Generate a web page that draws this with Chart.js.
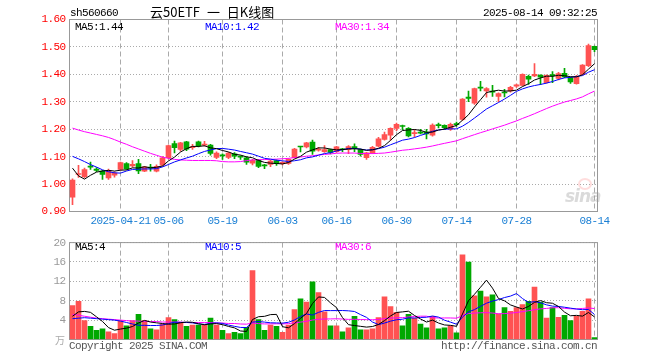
<!DOCTYPE html>
<html>
<head>
<meta charset="utf-8">
<script src="https://cdn.jsdelivr.net/npm/chart.js@4.4.1/dist/chart.umd.min.js"></script>
<style>
  html, body { margin: 0; padding: 0; background: #fff; }
  #wrap { position: relative; width: 660px; height: 360px; overflow: hidden; font-family: "Liberation Mono", monospace; }
  #wrap canvas { position: absolute; left: 0; }
  .txt { position: absolute; font-size: 11px; line-height: 12px; letter-spacing: -0.6px; white-space: nowrap; color: #000; }
</style>
</head>
<body>
<div id="wrap">
  <canvas id="kChart" width="660" height="232" style="top:0"></canvas>
  <canvas id="volChart" width="660" height="128" style="top:232px"></canvas>

  <div class="txt" style="left:70px;top:7px">sh560660</div>
  <div class="txt" style="left:150px;top:4px;font-family:'Noto Sans CJK SC';font-size:13px;line-height:16px;letter-spacing:0;word-spacing:4px">云50ETF 一 日K线图</div>
  <div class="txt" style="right:63px;top:7px">2025-08-14 09:32:25</div>

  <div class="txt" style="left:75px;top:21px">MA5:1.44</div>
  <div class="txt" style="left:205px;top:21px;color:#0000ff">MA10:1.42</div>
  <div class="txt" style="left:335px;top:21px;color:#ff00ff">MA30:1.34</div>

  <div class="txt" style="left:75px;top:241px">MA5:4</div>
  <div class="txt" style="left:205px;top:241px;color:#0000ff">MA10:5</div>
  <div class="txt" style="left:335px;top:241px;color:#ff00ff">MA30:6</div>

  <div class="txt" style="left:55px;top:334px;color:#aaa;font-family:'Noto Sans CJK SC';font-size:10px;letter-spacing:0">万</div>
  <div class="txt" style="left:69px;top:340px;color:#555">Copyright 2025 SINA.COM</div>
  <div class="txt" style="right:63px;top:340px;color:#555">http://finance.sina.com.cn</div>

  <!-- sina watermark -->
  <div style="position:absolute;left:578px;top:178px;width:10px;height:8px;border:2px solid rgba(255,120,120,0.25);border-radius:50%"></div>
  <div style="position:absolute;left:565px;top:186px;font:italic bold 17px 'DejaVu Sans';color:rgba(150,150,150,0.35);letter-spacing:-1px">sina</div>
</div>

<script>
// ── Data ──
const dates = [
  '2025-04-09','2025-04-10','2025-04-11','2025-04-14','2025-04-15','2025-04-16','2025-04-17','2025-04-18',
  '2025-04-21','2025-04-22','2025-04-23','2025-04-24','2025-04-25','2025-04-28','2025-04-29','2025-04-30',
  '2025-05-06','2025-05-07','2025-05-08','2025-05-09','2025-05-12','2025-05-13','2025-05-14','2025-05-15',
  '2025-05-16','2025-05-19','2025-05-20','2025-05-21','2025-05-22','2025-05-23','2025-05-26','2025-05-27',
  '2025-05-28','2025-05-29','2025-05-30','2025-06-03','2025-06-04','2025-06-05','2025-06-06','2025-06-09',
  '2025-06-10','2025-06-11','2025-06-12','2025-06-13','2025-06-16','2025-06-17','2025-06-18','2025-06-19',
  '2025-06-20','2025-06-23','2025-06-24','2025-06-25','2025-06-26','2025-06-27','2025-06-30','2025-07-01',
  '2025-07-02','2025-07-03','2025-07-04','2025-07-07','2025-07-08','2025-07-09','2025-07-10','2025-07-11',
  '2025-07-14','2025-07-15','2025-07-16','2025-07-17','2025-07-18','2025-07-21','2025-07-22','2025-07-23',
  '2025-07-24','2025-07-25','2025-07-28','2025-07-29','2025-07-30','2025-07-31','2025-08-01','2025-08-04',
  '2025-08-05','2025-08-06','2025-08-07','2025-08-08','2025-08-11','2025-08-12','2025-08-13','2025-08-14'
];

const tickDates = ['2025-04-21','2025-05-06','2025-05-19','2025-06-03','2025-06-16','2025-06-30','2025-07-14','2025-07-28','2025-08-14'];
const priceTicks = [0.90, 1.00, 1.10, 1.20, 1.30, 1.40, 1.50, 1.60];
const volTicks   = [0, 4, 8, 12, 16, 20];

const opens = [
  0.952,1.035,1.027,1.066,1.055,1.047,1.022,1.032,1.053,1.075,1.066,1.075,1.047,1.062,1.047,1.069,
  1.096,1.148,1.126,1.154,1.133,1.154,1.142,1.142,1.097,1.106,1.097,1.110,1.100,1.096,1.076,1.087,
  1.070,1.072,1.086,1.074,1.075,1.096,1.137,1.135,1.153,1.124,1.118,1.126,1.118,1.128,1.126,1.137,
  1.126,1.096,1.114,1.138,1.163,1.178,1.203,1.213,1.203,1.184,1.190,1.190,1.178,1.216,1.214,1.200,
  1.220,1.236,1.317,1.295,1.352,1.340,1.338,1.320,1.334,1.340,1.357,1.360,1.393,1.394,1.397,1.370,
  1.399,1.385,1.404,1.388,1.366,1.400,1.432,1.502
];
const highs = [
  1.019,1.068,1.058,1.080,1.060,1.050,1.055,1.045,1.080,1.078,1.086,1.090,1.065,1.072,1.070,1.100,
  1.142,1.157,1.152,1.156,1.145,1.157,1.156,1.145,1.118,1.110,1.116,1.115,1.103,1.100,1.090,1.090,
  1.072,1.087,1.088,1.082,1.093,1.130,1.138,1.152,1.160,1.134,1.140,1.128,1.138,1.130,1.140,1.147,
  1.128,1.116,1.138,1.170,1.190,1.205,1.222,1.215,1.206,1.200,1.200,1.200,1.220,1.222,1.216,1.222,
  1.226,1.312,1.339,1.350,1.375,1.352,1.360,1.333,1.345,1.356,1.365,1.402,1.397,1.439,1.398,1.398,
  1.410,1.407,1.422,1.390,1.396,1.436,1.510,1.503
];
const lows = [
  0.925,1.024,1.022,1.053,1.045,1.017,1.017,1.025,1.050,1.053,1.062,1.038,1.045,1.047,1.044,1.065,
  1.092,1.114,1.120,1.122,1.126,1.135,1.138,1.105,1.093,1.090,1.093,1.093,1.090,1.072,1.070,1.060,
  1.056,1.063,1.068,1.070,1.072,1.094,1.117,1.132,1.108,1.120,1.115,1.110,1.115,1.118,1.111,1.118,
  1.102,1.090,1.112,1.135,1.160,1.160,1.195,1.198,1.172,1.172,1.183,1.165,1.175,1.205,1.200,1.196,
  1.210,1.232,1.300,1.290,1.340,1.317,1.320,1.300,1.318,1.335,1.352,1.358,1.363,1.392,1.362,1.368,
  1.370,1.380,1.388,1.367,1.364,1.398,1.428,1.483
];
const closes = [
  1.015,1.038,1.053,1.062,1.050,1.035,1.050,1.040,1.078,1.055,1.072,1.048,1.063,1.058,1.065,1.096,
  1.140,1.133,1.150,1.127,1.137,1.139,1.145,1.112,1.113,1.103,1.113,1.102,1.098,1.080,1.087,1.064,
  1.066,1.084,1.074,1.079,1.090,1.128,1.135,1.150,1.120,1.127,1.126,1.115,1.136,1.125,1.137,1.131,
  1.108,1.114,1.134,1.165,1.180,1.203,1.218,1.210,1.176,1.188,1.186,1.183,1.215,1.213,1.206,1.218,
  1.217,1.310,1.312,1.348,1.350,1.348,1.335,1.330,1.332,1.353,1.362,1.400,1.382,1.400,1.390,1.396,
  1.395,1.403,1.391,1.372,1.393,1.434,1.505,1.490
];
const volumes = [
  7.0,7.9,3.9,2.7,1.9,2.2,1.6,1.2,3.9,2.8,3.9,5.2,3.9,2.2,2.0,3.2,
  4.5,4.1,3.5,2.7,3.0,3.0,3.0,4.4,3.0,1.9,1.2,1.5,1.2,2.5,14.2,4.1,
  1.9,3.0,2.7,1.5,3.0,6.2,8.4,7.7,11.9,9.7,5.7,2.8,2.8,1.6,2.4,4.8,
  2.0,2.0,2.2,4.5,8.8,6.8,5.6,2.8,5.2,4.4,3.2,2.4,4.8,2.2,2.4,2.8,
  1.4,17.5,16.0,9.0,10.0,8.8,9.2,5.3,6.6,5.8,6.6,7.2,7.9,10.8,7.7,4.4,
  6.6,4.6,5.0,3.9,4.8,5.8,8.4,0.4
];

// averages before enough history is on screen
const ma5Head  = [1.058, 1.030, 1.018, 1.032];
const ma10Head = [1.101, 1.092, 1.082, 1.071, 1.062, 1.052, 1.045, 1.041, 1.040];
const ma30Head = [1.204, 1.197, 1.191, 1.186, 1.181, 1.176, 1.170, 1.162, 1.153, 1.145, 1.136, 1.128, 1.120, 1.112, 1.105,
                  1.098, 1.094, 1.090, 1.088, 1.087, 1.086, 1.086, 1.086, 1.086, 1.085, 1.082, 1.081, 1.081, 1.082];
const volMa5Head  = [4.8, 5.7, 5.8, 5.6];
const volMa10Head = [4.3, 4.4, 4.5, 4.4, 4.3, 4.2, 4.1, 4.0, 3.8];
const volMa30Head = [5.2, 5.0, 4.8, 4.6, 4.4, 4.3, 4.2, 4.1, 4.0, 3.9, 3.8, 3.8, 3.7, 3.7, 3.7,
                     3.6, 3.6, 3.6, 3.6, 3.5, 3.5, 3.5, 3.5, 3.5, 3.4, 3.4, 3.3, 3.3, 3.2];

const RED   = '#ff5252';
const GREEN = '#00a800';
const GRID  = '#aaaaaa';
const FONT  = 'Liberation Mono';

function movingAvg(values, n, head) {
  return values.map((v, i) => {
    if (i < n - 1) return head[i];
    let s = 0;
    for (let k = i - n + 1; k <= i; k++) s += values[k];
    return s / n;
  });
}

const tickIdx = tickDates.map(d => dates.indexOf(d));
const isTick  = i => tickIdx.includes(i);
const colors  = closes.map((c, i) => c >= opens[i] ? RED : GREEN);

// frame around the plot + tighter digits
const framePlugin = {
  id: 'frame',
  beforeDraw(chart) { chart.ctx.letterSpacing = '-0.6px'; },
  beforeDatasetsDraw(chart) {
    const { ctx, chartArea: a } = chart;
    ctx.save();
    ctx.strokeStyle = '#999';
    ctx.lineWidth = 1;
    ctx.setLineDash([]);
    ctx.strokeRect(a.left, a.top, a.right - a.left, a.bottom - a.top);
    ctx.restore();
  }
};

function maLine(data, color) {
  return { type: 'line', data, borderColor: color, borderWidth: 1, pointRadius: 0, tension: 0, order: 0 };
}

function xScale(showLabels) {
  return {
    offset: true,
    afterFit: s => { s.height = showLabels ? 20.5 : 0; },
    grid: { offset: false, drawTicks: false, color: c => isTick(c.index) ? GRID : 'transparent' },
    border: { display: false, dash: [5, 3] },
    ticks: {
      display: showLabels, autoSkip: false, maxRotation: 0, minRotation: 0, padding: 3,
      color: '#1a7fd4', font: { family: FONT, size: 11 },
      callback: (v, i) => isTick(i) ? (i === tickIdx[0] ? dates[i] : dates[i].slice(5)) : ''
    }
  };
}

// ── K chart ──
new Chart(document.getElementById('kChart'), {
  type: 'bar',
  data: {
    labels: dates,
    datasets: [
      maLine(movingAvg(closes, 5, ma5Head), '#000000'),
      maLine(movingAvg(closes, 10, ma10Head), '#0000ff'),
      maLine(movingAvg(closes, 30, ma30Head), '#ff00ff'),
      { data: opens.map((o, i) => [o, closes[i]]), backgroundColor: colors, barThickness: 5,
        minBarLength: 1, grouped: false, borderWidth: 0, order: 1 },
      { data: lows.map((l, i) => [l, highs[i]]), backgroundColor: colors, barThickness: 1,
        grouped: false, borderWidth: 0, order: 2 }
    ]
  },
  options: {
    responsive: false, animation: false,
    layout: { padding: { left: 0, right: 62.5, top: 19.5, bottom: 0 } },
    plugins: { legend: { display: false }, tooltip: { enabled: false } },
    scales: {
      x: xScale(true),
      y: {
        min: priceTicks[0], max: priceTicks[priceTicks.length - 1],
        afterFit: s => { s.width = 69.5; },
        afterBuildTicks: s => { s.ticks = priceTicks.map(v => ({ value: v })); },
        grid: { drawTicks: false, color: GRID },
        border: { display: false, dash: [1, 2] },
        ticks: { padding: 4, color: '#ff0000', font: { family: FONT, size: 11 }, callback: v => v.toFixed(2) }
      }
    }
  },
  plugins: [framePlugin]
});

// ── Volume chart ──
new Chart(document.getElementById('volChart'), {
  type: 'bar',
  data: {
    labels: dates,
    datasets: [
      maLine(movingAvg(volumes, 5, volMa5Head), '#000000'),
      maLine(movingAvg(volumes, 10, volMa10Head), '#0000ff'),
      maLine(movingAvg(volumes, 30, volMa30Head), '#ff00ff'),
      { data: volumes, backgroundColor: colors, barThickness: 5, borderWidth: 0, order: 1 }
    ]
  },
  options: {
    responsive: false, animation: false,
    layout: { padding: { left: 0, right: 62.5, top: 8.5, bottom: 20.5 } },
    plugins: { legend: { display: false }, tooltip: { enabled: false } },
    scales: {
      x: xScale(false),
      y: {
        min: volTicks[0], max: volTicks[volTicks.length - 1],
        afterFit: s => { s.width = 69.5; },
        afterBuildTicks: s => { s.ticks = volTicks.map(v => ({ value: v })); },
        grid: { drawTicks: false, color: GRID },
        border: { display: false, dash: [1, 2] },
        ticks: { padding: 4, color: '#999999', font: { family: FONT, size: 11 }, callback: v => v === 0 ? '' : v }
      }
    }
  },
  plugins: [framePlugin]
});
</script>
</body>
</html>
